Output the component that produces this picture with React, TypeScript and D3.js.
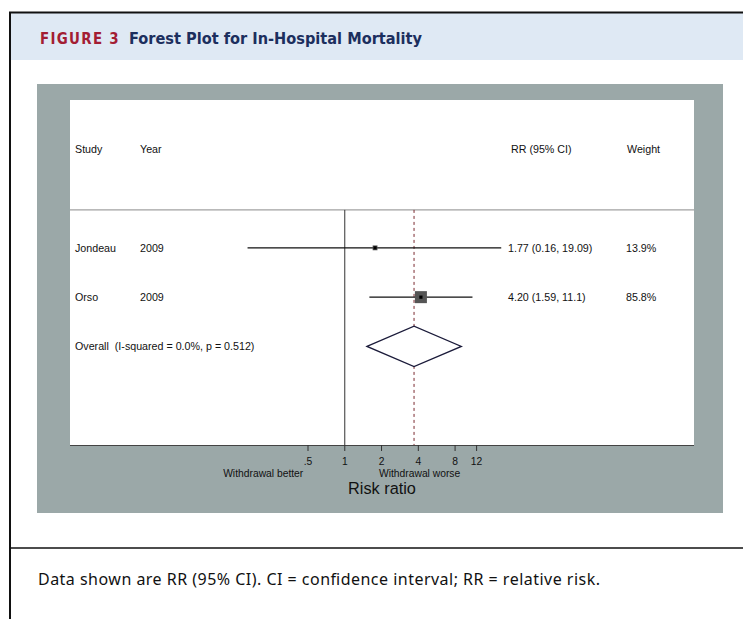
import React from "react";
import * as d3 from "d3";

// study rows
const studies = ["Jondeau", "Orso"];
const years = ["2009", "2009"];
const rr = [1.77, 4.2];
const ciLow = [0.16, 1.59];
const ciHigh = [19.09, 11.1];
const weights = [13.9, 85.8];
const rrLabels = ["1.77 (0.16, 19.09)", "4.20 (1.59, 11.1)"];
const weightLabels = ["13.9%", "85.8%"];

// pooled estimate (read off the diamond)
const overallRR = 3.69;
const overallLow = 1.52;
const overallHigh = 9.0;
const overallLabel = "Overall  (I-squared = 0.0%, p = 0.512)";

// x axis
const xTicks = [0.5, 1, 2, 4, 8, 12];
const xTickLabels = [".5", "1", "2", "4", "8", "12"];
const favourLabels = ["Withdrawal better", "Withdrawal worse"];
const favourAt = [0.215, 4.1];

const W = 743;
const H = 619;
const arial = "'Liberation Sans', Arial, sans-serif";
const condensed = "'DejaVu Sans Condensed', 'DejaVu Sans', sans-serif";

const App = () => {
    // plot area (white) inside the grey panel
    const left = 70;
    const right = 694;
    const top = 100;
    const bottom = 445;

    const x = d3.scaleLog().domain([0.5, 12]).range([308, 476.6]);
    // row units: header at -2, studies at 0,1, overall at 2, axis at 4
    const y = d3.scaleLinear().domain([-3, 4]).range([top, bottom]);
    const box = d3.scaleSqrt().domain([0, 85.8]).range([0, 12]);
    const rowH = y(1) - y(0);
    const sepY = y(-0.77);

    const oy = y(studies.length);
    const diamond = d3.line()([
        [x(overallLow), oy],
        [x(overallRR), oy - rowH * 0.41],
        [x(overallHigh), oy],
        [x(overallRR), oy + rowH * 0.41],
    ]) + "Z";

    const fs = 10.7;
    const dy = 3.8;

    return (
        <svg width={W} height={H} style={{ position: "absolute", left: 0, top: 0, background: "#fff" }}>
            {/* header band */}
            <rect x={10} y={13} width={W - 10} height={47} fill="#dfe9f4" />
            <line x1={9} x2={W} y1={12.5} y2={12.5} stroke="#111" strokeWidth={2} />
            <line x1={10} x2={10} y1={12} y2={H} stroke="#111" strokeWidth={2} />
            <text x={40} y={44} fontFamily={condensed} fontStretch="condensed" fontWeight="bold" fontSize={16} letterSpacing={1.4}
                textLength={80} lengthAdjust="spacingAndGlyphs" fill="#a31d33">FIGURE 3</text>
            <text x={129} y={44} fontFamily={condensed} fontStretch="condensed" fontWeight="bold" fontSize={16.5}
                textLength={293} lengthAdjust="spacingAndGlyphs" fill="#1c2f5e">Forest Plot for In-Hospital Mortality</text>

            {/* grey panel + white plot region */}
            <rect x={37} y={84} width={686} height={429} fill="#9ba8a8" />
            <rect x={left} y={top} width={right - left} height={bottom - top} fill="#fff" />

            {/* column headers */}
            <g fontFamily={arial} fontSize={fs} fill="#111">
                <text x={75} y={y(-2) + dy}>Study</text>
                <text x={140} y={y(-2) + dy}>Year</text>
                <text x={511} y={y(-2) + dy}>RR (95% CI)</text>
                <text x={627} y={y(-2) + dy}>Weight</text>
            </g>
            <line x1={left} x2={right} y1={sepY} y2={sepY} stroke="#8a8a8a" strokeWidth={1} />

            {/* null line and pooled-estimate line */}
            <line x1={x(1)} x2={x(1)} y1={sepY} y2={bottom} stroke="#333" strokeWidth={1} />
            <line x1={x(overallRR)} x2={x(overallRR)} y1={sepY} y2={bottom} stroke="#7a2a30" strokeWidth={1} strokeDasharray="3,3" />

            {/* study rows */}
            {studies.map((s, i) => {
                const cy = y(i);
                const b = box(weights[i]);
                return (
                    <g key={s}>
                        <text x={75} y={cy + dy} fontFamily={arial} fontSize={fs} fill="#111">{s}</text>
                        <text x={140} y={cy + dy} fontFamily={arial} fontSize={fs} fill="#111">{years[i]}</text>
                        <line x1={x(ciLow[i])} x2={x(ciHigh[i])} y1={cy} y2={cy} stroke="#111" strokeWidth={1.3} />
                        <rect x={x(rr[i]) - b / 2} y={cy - b / 2} width={b} height={b} fill="#555" />
                        <rect x={x(rr[i]) - 1.6} y={cy - 1.6} width={3.2} height={3.2} fill="#000" />
                        <text x={508} y={cy + dy} fontFamily={arial} fontSize={fs} fill="#111">{rrLabels[i]}</text>
                        <text x={626} y={cy + dy} fontFamily={arial} fontSize={fs} fill="#111">{weightLabels[i]}</text>
                    </g>
                );
            })}

            {/* overall */}
            <text x={75} y={oy + dy} fontFamily={arial} fontSize={fs} fill="#111" style={{ whiteSpace: "pre" }}>{overallLabel}</text>
            <path d={diamond} fill="#fff" stroke="#1b1b3a" strokeWidth={1.3} />

            {/* x axis */}
            <line x1={left} x2={right} y1={bottom + 0.5} y2={bottom + 0.5} stroke="#444" strokeWidth={1.2} />
            <g fontFamily={arial} fontSize={10.3} fill="#111" textAnchor="middle">
                {xTicks.map((t, i) => (
                    <g key={t}>
                        <line x1={x(t)} x2={x(t)} y1={bottom} y2={bottom + 6} stroke="#333" strokeWidth={1} />
                        <text x={x(t)} y={bottom + 19.5}>{xTickLabels[i]}</text>
                    </g>
                ))}
                {favourLabels.map((f, i) => (
                    <text key={f} x={x(favourAt[i])} y={bottom + 32}>{f}</text>
                ))}
            </g>
            <text x={(left + right) / 2} y={bottom + 48.5} textAnchor="middle" fontFamily={arial} fontSize={16.3} fill="#111">Risk ratio</text>

            {/* footnote */}
            <line x1={9} x2={W} y1={548} y2={548} stroke="#111" strokeWidth={1.5} />
            <text x={38} y={585} fontFamily="'Noto Sans', 'Open Sans', sans-serif" fontSize={16} textLength={562} lengthAdjust="spacing"
                fill="#111">Data shown are RR (95% CI). CI = confidence interval; RR = relative risk.</text>
        </svg>
    );
};

export default App;
